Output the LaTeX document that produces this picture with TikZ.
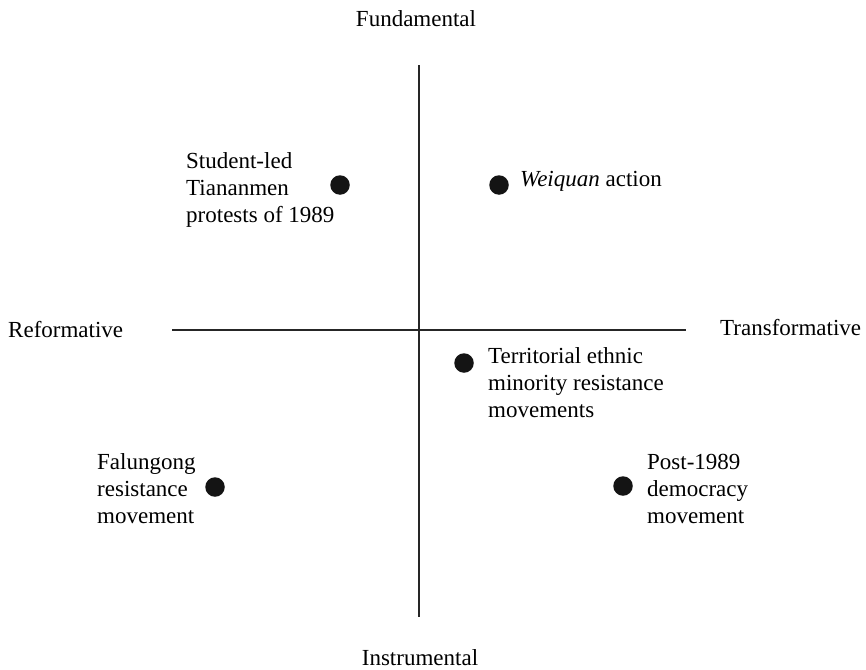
\documentclass[tikz,border=0pt]{standalone}
\usepackage{fontspec}
\setmainfont{Liberation Serif}
\begin{document}
\begin{tikzpicture}[x=1pt,y=-1pt,
  lbl/.style={anchor=base west,inner sep=0pt,align=left,font=\fontsize{23}{27}\selectfont},
  axlbl/.style={anchor=base,inner sep=0pt,font=\fontsize{23}{27}\selectfont},
  dot/.style={circle,fill=black!92,draw=none,minimum size=19.5pt,inner sep=0pt},
  axis/.style={draw=black!85,line width=1.2pt}]
\useasboundingbox (0,0) rectangle (866,669);
% axes
\coordinate (vt) at (419,65);
\coordinate (vb) at (419,617);
\coordinate (hl) at (172,330);
\coordinate (hr) at (686,330);
\draw[axis] (vt) -- (vb);
\draw[axis] (hl) -- (hr);
% axis labels
\node[axlbl] (fund) at (416,27) {Fundamental};
\node[axlbl] (instr) at (420,665) {Instrumental};
\node[lbl] (reform) at (8,337) {Reformative};
\node[lbl] (transf) at (720,335) {Transformative};
% dots
\node[dot] (d1) at (340,185) {};
\node[dot] (d2) at (499,185) {};
\node[dot] (d3) at (464,363) {};
\node[dot] (d4) at (215,487) {};
\node[dot] (d5) at (623,486) {};
% labels (base anchor = baseline of last line)
\node[lbl] (t1) at (186,222) {Student-led\\Tiananmen\\protests of 1989};
\node[lbl] (t2) at (520,186) {\textit{Weiquan} action};
\node[lbl] (t3) at (488,417) {Territorial ethnic\\minority resistance\\movements};
\node[lbl] (t4) at (97,523) {Falungong\\resistance\\movement};
\node[lbl] (t5) at (647,523) {Post-1989\\democracy\\movement};
\end{tikzpicture}
\end{document}
